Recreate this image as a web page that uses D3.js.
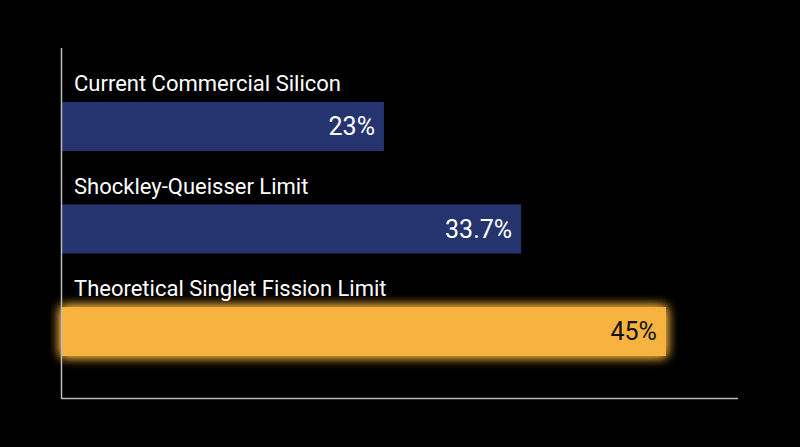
<!DOCTYPE html>
<html><head><meta charset="utf-8">
<script src="https://cdn.jsdelivr.net/npm/d3@7"></script>
<style>body{margin:0;background:#000}svg{display:block}</style>
</head><body>
<svg id="c" width="800" height="447"></svg>
<script>
const categories = ["Current Commercial Silicon","Shockley-Queisser Limit","Theoretical Singlet Fission Limit"];
const values = [23, 33.7, 45];
const valueLabels = ["23%","33.7%","45%"];
const colors = ["#25346e","#25346e","#f7b33f"];
const textColors = ["#fff","#fff","#111"];

const svg = d3.select("#c");
svg.append("rect").attr("width",800).attr("height",447).attr("fill","#000");
const x = d3.scaleLinear().domain([-2.2,50]).range([61,730]);
const y = d3.scaleBand().domain(categories).range([47,354.5]);
const defs = svg.append("defs");
const f = defs.append("filter").attr("id","glow").attr("x","-10%").attr("y","-60%").attr("width","120%").attr("height","220%");
f.append("feGaussianBlur").attr("in","SourceGraphic").attr("stdDeviation",6).attr("result","b");
const m = f.append("feMerge"); m.append("feMergeNode").attr("in","b"); m.append("feMergeNode").attr("in","b"); m.append("feMergeNode").attr("in","SourceGraphic");

categories.forEach((c,i)=>{
  const by = y(c) + 55;
  svg.append("rect").attr("x",x(-2.2)).attr("y",by).attr("width",x(values[i])-x(-2.2)).attr("height",49)
    .attr("fill",colors[i]).attr("filter",i==2?"url(#glow)":null);
  svg.append("text").attr("x",74).attr("y",by-11).attr("fill","#fff")
    .attr("font-family","Roboto, 'Open Sans', sans-serif").attr("font-size",22).text(c);
  svg.append("text").attr("x",x(values[i])-9).attr("y",by+33).attr("text-anchor","end").attr("fill",textColors[i])
    .attr("font-family","Roboto, 'Open Sans', sans-serif").attr("font-size",25).text(valueLabels[i]);
});
svg.append("line").attr("x1",61.5).attr("x2",61.5).attr("y1",48).attr("y2",398).attr("stroke","#bbb").attr("stroke-width",1.5);
svg.append("line").attr("x1",61).attr("x2",738).attr("y1",398.5).attr("y2",398.5).attr("stroke","#bbb").attr("stroke-width",1.5);
</script></body></html>
